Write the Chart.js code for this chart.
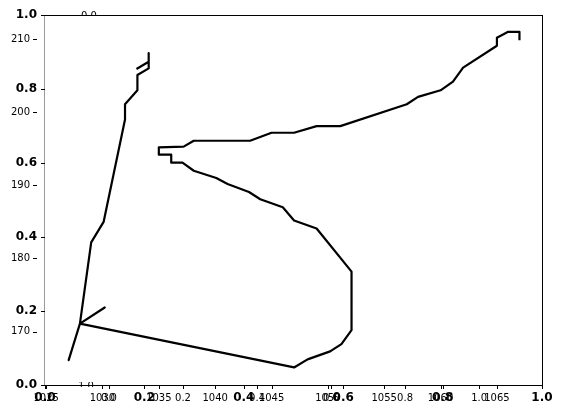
<!DOCTYPE html>
<html><head><meta charset="utf-8">
<script src="https://cdn.jsdelivr.net/npm/chart.js@4"></script>
<style>html,body{margin:0;padding:0;background:#fff;}#wrap{width:563px;height:418px;}</style>
</head><body><div id="wrap"><canvas id="c" width="563" height="418"></canvas></div>
<script>
// Path data (x, y)
const pathX = [1067.0,1067.0,1066.0,1065.0,1065.0,1062.0,1061.1,1060.0,1058.0,1057.0,1051.1,1049.0,1047.0,1045.0,1043.1,1038.1,1037.2,1035.0,1035.0,1036.1,1036.1,1037.1,1038.1,1040.1,1041.1,1043.0,1044.0,1046.0,1047.0,1049.0,1052.1,1052.1,1051.2,1050.2,1048.2,1047.0,1028.0,1030.2,1028.0,1027.0,1028.0,1029.0,1030.1,1032.0,1032.0,1033.1,1033.1,1034.1,1034.1,1034.1,1033.1];
const pathY = [210.0,211.0,211.0,210.2,209.1,206.1,204.2,203.0,202.1,201.1,198.1,198.1,197.2,197.2,196.1,196.1,195.3,195.2,194.2,194.2,193.1,193.1,192.0,191.0,190.2,189.1,188.1,187.0,185.2,184.1,178.2,170.2,168.3,167.3,166.2,165.1,171.1,173.3,171.1,166.1,171.1,182.2,185.0,199.0,201.1,203.0,205.1,206.0,208.1,206.9,206.0];

// Tick values and labels
const dataXTicks = [1025,1030,1035,1040,1045,1050,1055,1060,1065];
const dataYTicks = [170,180,190,200,210];
const unitTicks = [0,0.2,0.4,0.6,0.8,1.0];
const unitTickLabels = ['0.0','0.2','0.4','0.6','0.8','1.0'];

const points = pathX.map((x,i)=>({x:x,y:pathY[i]}));

const FONT = '10px "DejaVu Sans"';
const BOLD = 'bold 12px "DejaVu Sans"';

const decor = {
  id:'decor',
  afterDraw(chart){
    const ctx = chart.ctx, a = chart.chartArea, s = chart.scales;
    const L = a.left, R = a.right, T = a.top, B = a.bottom;
    ctx.save();
    ctx.font = FONT;
    ctx.fillStyle = '#000';
    ctx.strokeStyle = '#000';
    ctx.lineWidth = 1;

    // partially hidden labels of the covered axes
    ctx.save();
    ctx.beginPath(); ctx.rect(0,0,563,T); ctx.clip();
    ctx.textAlign='center'; ctx.textBaseline='middle';
    ctx.fillText(unitTickLabels[0], 89, T+1);
    ctx.restore();
    ctx.save();
    ctx.beginPath(); ctx.rect(0,B-3,563,5); ctx.clip();
    ctx.textAlign='center'; ctx.textBaseline='middle';
    ctx.fillText(unitTickLabels[5], 86, B+1);
    ctx.restore();

    // spines
    const px = v => Math.round(v)+0.5;
    ctx.beginPath();
    ctx.moveTo(L, px(T)); ctx.lineTo(R, px(T));
    ctx.moveTo(px(R), T); ctx.lineTo(px(R), B);
    ctx.moveTo(L, px(B)); ctx.lineTo(R+0.5, px(B));
    ctx.stroke();
    ctx.strokeStyle = '#9a9a9a';
    ctx.beginPath(); ctx.moveTo(px(L)-1, T); ctx.lineTo(px(L)-1, B+0.5); ctx.stroke();
    ctx.strokeStyle = '#000';

    // x ticks
    const xTick = (scale, v) => {
      const x = px(scale.getPixelForValue(v));
      ctx.beginPath(); ctx.moveTo(x, B); ctx.lineTo(x, B+4); ctx.stroke();
      return scale.getPixelForValue(v);
    };
    ctx.textAlign='center'; ctx.textBaseline='top';
    ctx.font = FONT;
    dataXTicks.forEach(v => { const x = xTick(s.x, v); ctx.fillText(String(v), x, B+8); });
    unitTicks.forEach((v,i) => { const x = xTick(s.xC, v); ctx.fillText(unitTickLabels[i], x, B+8); });
    ctx.font = BOLD;
    unitTicks.forEach((v,i) => { const x = xTick(s.xA, v); ctx.fillText(unitTickLabels[i], x, B+7); });

    // y ticks
    ctx.textAlign='right'; ctx.textBaseline='middle';
    ctx.font = FONT;
    dataYTicks.forEach(v => {
      const y = s.y.getPixelForValue(v);
      ctx.beginPath(); ctx.moveTo(L-12, px(y)); ctx.lineTo(L-8, px(y)); ctx.stroke();
      ctx.fillText(String(v), L-15, y);
    });
    ctx.font = BOLD;
    unitTicks.forEach((v,i) => {
      const y = s.yA.getPixelForValue(v);
      ctx.beginPath(); ctx.moveTo(L-4, px(y)); ctx.lineTo(L, px(y)); ctx.stroke();
      ctx.fillText(unitTickLabels[i], L-8, y);
    });
    ctx.restore();
  }
};

new Chart(document.getElementById('c'), {
  type:'scatter',
  data:{datasets:[{data:points, showLine:true, borderColor:'#000', backgroundColor:'#000',
    borderWidth:2.2, pointRadius:0, tension:0, borderJoinStyle:'round', borderCapStyle:'square'}]},
  options:{
    responsive:false, animation:false, devicePixelRatio:1,
    layout:{padding:{left:45,top:15,right:21,bottom:33}},
    plugins:{legend:{display:false}, tooltip:{enabled:false}},
    scales:{
      x:{type:'linear', min:1024.9, max:1069, display:false},
      y:{type:'linear', min:162.7, max:213.3, display:false},
      xA:{type:'linear', axis:'x', min:0, max:1, display:false},
      yA:{type:'linear', axis:'y', min:0, max:1, display:false},
      xC:{type:'linear', axis:'x', min:-0.173, max:1.170, display:false}
    }
  },
  plugins:[decor]
});
</script></body></html>
